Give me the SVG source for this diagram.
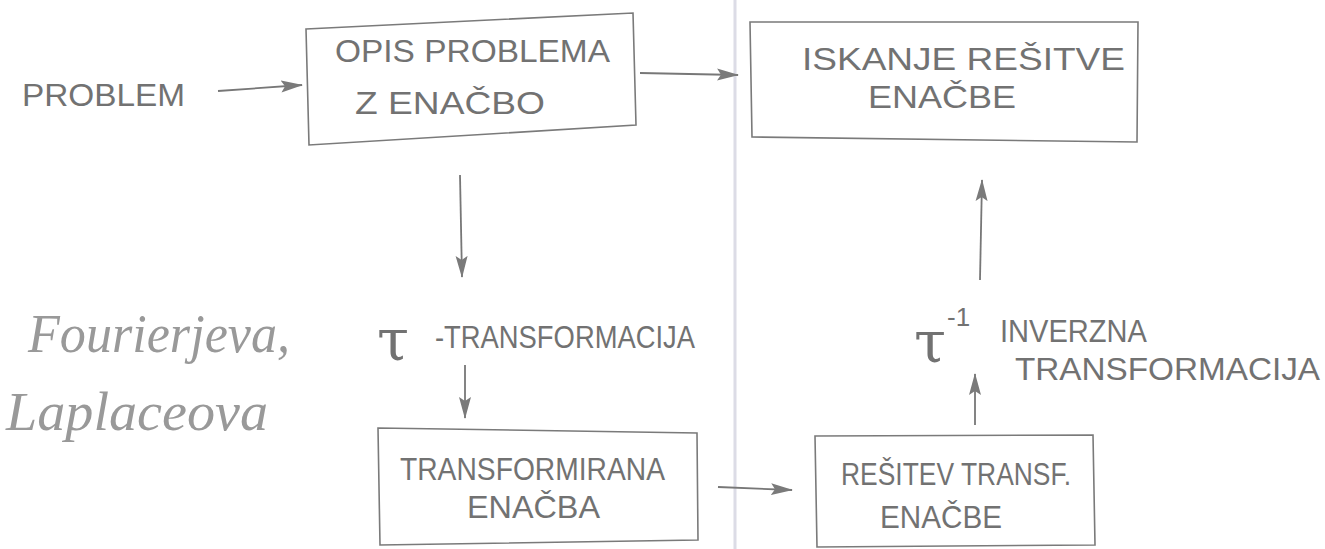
<svg xmlns="http://www.w3.org/2000/svg" width="1325" height="549" viewBox="0 0 1325 549">
<style>
.box{fill:none;stroke:#7a7a7a;stroke-width:1.6}
.t{font-family:"Liberation Sans","DejaVu Sans",sans-serif;fill:#727272;font-size:32px}
.c{font-family:"Liberation Serif","DejaVu Serif",serif;font-style:italic;fill:#999;font-size:54px}
.sym{font-family:"DejaVu Serif","Liberation Serif",serif;fill:#727272;font-size:58px}
.sup{font-family:"Liberation Sans",sans-serif;font-size:26px}
.ln{fill:none;stroke:#777;stroke-width:1.8}
</style>
<defs>
<marker id="ah" viewBox="0 0 22 14" refX="21" refY="7" markerWidth="22" markerHeight="14" markerUnits="userSpaceOnUse" orient="auto">
<path d="M0,1 L22,7 L0,13 L4,7 Z" fill="#7a7a7a"/>
</marker>
</defs>
<rect width="1325" height="549" fill="#ffffff"/>
<line x1="735" y1="0" x2="735" y2="549" stroke="#dcdce6" stroke-width="3"/>

<g id="connectors">
<line class="ln" x1="218" y1="91" x2="302" y2="85" marker-end="url(#ah)"/>
<line class="ln" x1="640" y1="73" x2="738" y2="75" marker-end="url(#ah)"/>
<line class="ln" x1="460" y1="175" x2="462" y2="277" marker-end="url(#ah)"/>
<line class="ln" x1="465" y1="365" x2="465" y2="418" marker-end="url(#ah)"/>
<line class="ln" x1="718" y1="487" x2="792" y2="490" marker-end="url(#ah)"/>
<line class="ln" x1="975" y1="425" x2="975" y2="374" marker-end="url(#ah)"/>
<line class="ln" x1="980" y1="280" x2="982" y2="180" marker-end="url(#ah)"/>
</g>

<g id="problem">
<text class="t" x="22" y="106" textLength="163" lengthAdjust="spacingAndGlyphs">PROBLEM</text>
</g>

<g id="opis">
<path class="box" d="M306,29 L633,13 L636,125 L309,145 Z"/>
<text class="t" x="335" y="62" textLength="275" lengthAdjust="spacingAndGlyphs">OPIS   PROBLEMA</text>
<text class="t" x="355" y="114" textLength="190" lengthAdjust="spacingAndGlyphs">Z ENAČBO</text>
</g>

<g id="iskanje">
<path class="box" d="M750,22 L1138,22 L1137,142 L752,137 Z"/>
<text class="t" x="802" y="70" textLength="323" lengthAdjust="spacingAndGlyphs">ISKANJE  REŠITVE</text>
<text class="t" x="868" y="108" textLength="148" lengthAdjust="spacingAndGlyphs">ENAČBE</text>
</g>

<g id="tlabel">
<text class="sym" x="377" y="360">τ</text>
<text class="t" x="435" y="348" font-size="26" textLength="260" lengthAdjust="spacingAndGlyphs">-TRANSFORMACIJA</text>
</g>

<g id="transformirana">
<path class="box" d="M378,428 L697,433 L698,540 L380,545 Z"/>
<text class="t" x="400" y="480" textLength="265" lengthAdjust="spacingAndGlyphs">TRANSFORMIRANA</text>
<text class="t" x="467" y="518" textLength="133" lengthAdjust="spacingAndGlyphs">ENAČBA</text>
</g>

<g id="resitev">
<path class="box" d="M815,436 L1093,435 L1095,545 L817,547 Z"/>
<text class="t" x="841" y="485" textLength="230" lengthAdjust="spacingAndGlyphs">REŠITEV  TRANSF.</text>
<text class="t" x="880" y="528" textLength="122" lengthAdjust="spacingAndGlyphs">ENAČBE</text>
</g>

<g id="inverzna">
<text class="sym" x="914" y="362">τ<tspan class="sup" dx="1" dy="-36">-1</tspan></text>
<text class="t" x="1000" y="342" font-size="26" textLength="147" lengthAdjust="spacingAndGlyphs">INVERZNA</text>
<text class="t" x="1015" y="380" font-size="26" textLength="305" lengthAdjust="spacingAndGlyphs">TRANSFORMACIJA</text>
</g>

<g id="methods">
<text class="c" x="28" y="352" textLength="262" lengthAdjust="spacingAndGlyphs">Fourierjeva,</text>
<text class="c" x="6" y="430" textLength="262" lengthAdjust="spacingAndGlyphs">Laplaceova</text>
</g>
</svg>
